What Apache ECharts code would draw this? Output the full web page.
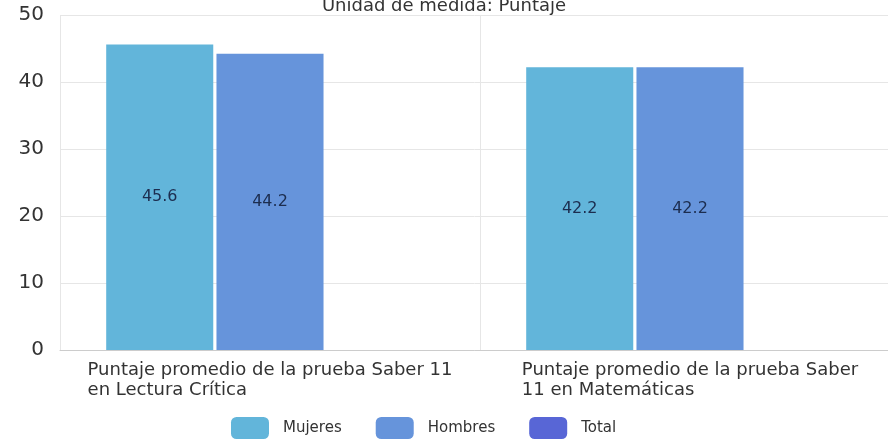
<!DOCTYPE html>
<html>
<head>
<meta charset="utf-8">
<script src="https://cdn.jsdelivr.net/npm/echarts@6/dist/echarts.min.js"></script>
<style>html,body{margin:0;padding:0;background:#fff}#c{width:888px;height:440px}</style>
</head>
<body>
<div id="c"></div>
<script>
var titleText = 'Unidad de medida: Puntaje';
var categories = ['Puntaje promedio de la prueba Saber 11\nen Lectura Crítica', 'Puntaje promedio de la prueba Saber\n11 en Matemáticas'];
var seriesNames = ['Mujeres', 'Hombres', 'Total'];
var mujeres = [45.6, 42.2];
var hombres = [44.2, 42.2];
var total = [null, null];
var colors = ['#62b5da', '#6694db', '#5866d6'];

var chart = echarts.init(document.getElementById('c'));
var font = 'DejaVu Sans';
function mk(name, data, i) {
  return {
    name: name, type: 'bar', data: data,
    barGap: '3%', barCategoryGap: '22%',
    itemStyle: { color: colors[i] },
    label: { show: true, position: 'inside', color: '#1c2d4f', fontSize: 16, fontFamily: font }
  };
}
chart.setOption({
  animation: false,
  title: { text: titleText, left: 'center', top: -8, textStyle: { fontSize: 18, fontWeight: 'normal', color: '#333', fontFamily: font } },
  grid: { left: 60, top: 15, bottom: 90, width: 840, outerBoundsMode: 'none', containLabel: false },
  legend: {
    left: 226, bottom: -4, itemWidth: 38, itemHeight: 22, itemGap: 34, icon: 'roundRect',
    textStyle: { fontSize: 15, color: '#333', fontFamily: font, padding: [0, 0, 0, 9] },
    data: seriesNames
  },
  xAxis: {
    type: 'category', data: categories,
    axisLine: { lineStyle: { color: '#ccc' } },
    axisTick: { show: false },
    splitLine: { show: true, interval: 0, lineStyle: { color: '#e6e6e6' } },
    axisLabel: {
      interval: 0, hideOverlap: false, margin: 10, color: '#333', fontFamily: font, fontSize: 18,
      formatter: function (v) { return v.split('\n').map(function (s) { return '{a|' + s + '}'; }).join('\n'); },
      rich: { a: { align: 'left', fontSize: 18, fontFamily: font, color: '#333', lineHeight: 20 } }
    }
  },
  yAxis: {
    type: 'value', min: 0, max: 50, interval: 10,
    axisLine: { show: false }, axisTick: { show: false },
    splitLine: { lineStyle: { color: '#e6e6e6' } },
    axisLabel: { color: '#333', fontSize: 20, fontFamily: font, margin: 16 }
  },
  series: [mk(seriesNames[0], mujeres, 0), mk(seriesNames[1], hombres, 1), mk(seriesNames[2], total, 2)]
});
</script>
</body>
</html>
